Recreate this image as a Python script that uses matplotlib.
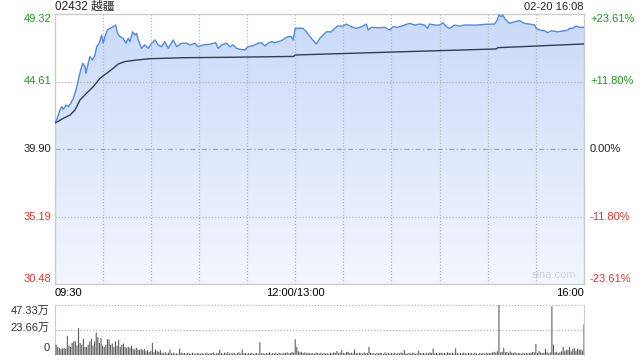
#!/usr/bin/env python3
"""Intraday chart for 02432 越疆 (sina style): price, average line and volume."""

import matplotlib

matplotlib.use("Agg")
import matplotlib.pyplot as plt
import numpy as np
from matplotlib.colors import LinearSegmentedColormap
from matplotlib.patches import PathPatch
from matplotlib.transforms import blended_transform_factory

plt.rcParams["font.family"] = ["Liberation Sans", "Noto Sans CJK SC", "DejaVu Sans"]

TITLE = "02432 越疆"
STAMP = "02-20 16:08"
PREV_CLOSE = 39.90
PRICE_TICKS = [49.32, 44.61, 39.90, 35.19, 30.48]
PCT_TICKS = ["+23.61%", "+11.80%", "0.00%", "-11.80%", "-23.61%"]
VOL_TICKS = [47.33, 23.66, 0]
VOL_LABELS = ["47.33万", "23.66万", "0"]
TIME_LABELS = ["09:30", "12:00/13:00", "16:00"]

# minutes of trading since 09:30 (lunch break removed, 0..330)
price_min = [
    0, 1.7, 3.4, 4.5, 5.5, 7.2, 8.6, 10.1, 11.7, 13.4, 14.8, 16.3, 17.6, 19.0,
    19.6, 21.0, 22.1, 23.8, 25.2, 26.3, 27.9, 29.4, 30.4, 31.4, 32.9, 34.6,
    36.6, 38.1, 39.3, 40.8, 42.8, 44.5, 45.9, 47.0, 48.7, 50.1, 51.2, 52.2,
    54.3, 56.3, 58.4, 60.5, 62.6, 64.6, 66.7, 68.8, 70.9, 74.0, 76.1, 79.2,
    82.3, 84.4, 87.5, 89.5, 92.6, 96.8, 100.4, 102.0, 104.1, 107.2, 109.3,
    111.3, 113.4, 115.5, 118.6, 120.7, 123.8, 126.9, 129.0, 131.1, 133.1,
    135.2, 137.3, 139.3, 141.5, 143.5, 145.6, 147.7, 148.7, 150.0, 151.8,
    154.9, 157.0, 160.1, 163.2, 165.3, 167.4, 169.5, 172.6, 174.6, 176.7,
    179.8, 181.9, 185.0, 188.1, 191.3, 194.4, 195.4, 197.5, 201.6, 205.8,
    208.9, 210.9, 214.0, 218.2, 221.3, 224.5, 227.6, 230.7, 232.4, 233.8,
    236.9, 240.0, 242.1, 244.2, 246.2, 249.4, 252.5, 255.6, 259.7, 263.9,
    268.0, 274.3, 275.9, 276.9, 278.4, 279.4, 280.9, 283.6, 286.7, 289.8,
    292.9, 296.0, 299.2, 300.2, 302.3, 305.4, 307.4, 309.6, 313.7, 317.8,
    319.9, 320.9, 323.0, 325.1, 327.2, 330.0,
]
price = [
    41.69, 42.04, 42.62, 42.85, 42.67, 42.97, 42.85, 43.09, 43.44, 44.02,
    44.71, 45.41, 45.88, 45.64, 45.18, 45.88, 46.34, 46.11, 46.46, 47.04,
    47.28, 47.85, 47.28, 47.74, 48.20, 48.32, 48.43, 48.55, 47.97, 47.74,
    47.62, 47.28, 47.62, 47.39, 48.08, 47.85, 47.97, 47.51, 46.93, 47.16,
    46.93, 47.28, 47.51, 47.16, 47.04, 47.39, 46.93, 47.51, 47.04, 47.28,
    47.28, 47.16, 47.28, 47.04, 47.16, 47.21, 47.32, 46.93, 47.16, 47.28,
    47.04, 47.16, 46.93, 46.86, 46.81, 47.04, 47.11, 47.28, 47.32, 47.09,
    47.28, 47.39, 47.32, 47.39, 47.46, 47.62, 47.74, 47.74, 47.51, 48.32,
    48.32, 48.32, 48.08, 47.62, 47.23, 47.62, 47.85, 48.08, 48.08, 48.32,
    48.48, 48.48, 48.62, 48.43, 48.32, 48.43, 48.62, 48.20, 48.39, 48.36,
    48.39, 48.20, 48.43, 48.39, 48.55, 48.67, 48.55, 48.62, 48.55, 48.32,
    48.62, 48.55, 48.55, 48.71, 48.43, 48.32, 48.55, 48.48, 48.55, 48.55,
    48.55, 48.60, 48.62, 48.90, 49.25, 49.13, 49.25, 48.95, 48.67, 48.78,
    48.85, 48.67, 48.62, 48.55, 48.32, 48.20, 48.15, 48.02, 48.15, 48.08,
    48.15, 48.20, 48.32, 48.32, 48.48, 48.39, 48.39,
]

avg_min = [0, 5.5, 9.7, 12.8, 15.9, 20.0, 24.2, 28.3, 32.5, 36.6, 39.7, 43.9,
           51.2, 59.5, 80.2, 109.3, 149.0, 150.0, 218.2, 275.3, 276.3, 330.0]
avg_price = [41.69, 42.04, 42.27, 42.62, 43.32, 43.79, 44.25, 44.83, 45.18,
             45.53, 45.83, 46.00, 46.11, 46.20, 46.27, 46.30, 46.36, 46.46,
             46.69, 46.88, 46.97, 47.23]

# volume per minute, in 万 shares (index = minute 0..330)
volume = [
    10.5, 9.8, 7.7, 6.8, 5.8, 6.1, 6.8, 5.8, 18.2, 8.9,
    7.7, 11.4, 12.9, 12.9, 8.9, 25.5, 11.4, 9.8, 15.4, 7.7,
    7.7, 9.8, 12.9, 15.4, 8.9, 12.9, 21.2, 16.9, 11.4, 16.0,
    8.9, 7.7, 9.8, 15.1, 14.5, 9.8, 10.8, 7.7, 12.9, 8.9,
    14.5, 7.7, 9.8, 10.8, 7.7, 6.8, 7.7, 6.8, 8.9, 5.8,
    5.2, 6.8, 5.2, 4.6, 5.8, 4.6, 5.8, 3.7, 4.6, 2.8,
    3.7, 11.4, 2.8, 5.2, 3.7, 2.8, 4.6, 2.2, 1.5, 2.8,
    1.5, 2.2, 5.2, 1.5, 2.2, 1.2, 1.5, 1.2, 6.1, 2.2,
    1.5, 1.8, 1.2, 2.0, 1.5, 1.0, 2.2, 1.5, 1.2, 1.8,
    1.5, 1.2, 2.0, 1.0, 1.5, 2.2, 1.2, 1.8, 1.5, 2.5,
    1.2, 1.5, 2.0, 5.2, 1.8, 1.2, 2.2, 1.5, 2.8, 1.2,
    1.8, 1.5, 2.2, 1.0, 1.8, 2.5, 1.2, 5.2, 1.5, 2.0,
    1.2, 1.8, 1.5, 2.2, 1.0, 1.5, 2.0, 1.2, 12.0, 1.5,
    1.8, 1.2, 2.0, 1.5, 2.5, 1.2, 1.8, 1.5, 2.2, 1.0,
    2.0, 1.5, 1.2, 2.2, 1.8, 2.5, 1.5, 2.0, 3.0, 2.2,
    15.0, 7.7, 3.5, 2.5, 3.0, 1.8, 2.5, 1.5, 2.2, 1.8,
    1.5, 2.0, 1.2, 2.5, 1.8, 1.5, 2.2, 1.2, 2.0, 1.5,
    1.8, 1.2, 2.2, 1.5, 2.5, 2.0, 3.7, 1.5, 2.2, 4.6,
    2.0, 1.5, 2.8, 3.0, 1.8, 2.2, 1.5, 5.2, 2.0, 1.5,
    2.2, 1.8, 1.2, 2.5, 1.5, 2.0, 7.7, 2.2, 1.5, 1.8,
    1.2, 2.0, 1.5, 2.2, 1.8, 1.0, 2.5, 1.5, 2.0, 1.2,
    1.8, 1.5, 2.2, 1.2, 2.0, 1.5, 2.5, 1.8, 4.6, 1.5,
    1.2, 2.0, 1.5, 1.8, 2.2, 1.2, 1.5, 4.0, 1.8, 1.5,
    2.0, 1.2, 2.2, 1.5, 2.5, 1.8, 6.2, 1.5, 2.0, 1.2,
    1.8, 2.2, 1.5, 2.0, 1.2, 2.5, 1.8, 1.5, 2.2, 1.5,
    6.2, 1.8, 1.2, 2.0, 1.5, 2.2, 1.8, 1.2, 2.0, 1.5,
    1.8, 1.2, 2.2, 1.5, 1.0, 2.0, 1.5, 1.8, 1.2, 2.2,
    1.5, 2.0, 1.8, 2.5, 3.0, 2.2, 3.5, 47.33, 2.5, 3.0,
    6.8, 2.5, 3.0, 2.0, 3.5, 2.2, 1.8, 2.5, 1.5, 2.0,
    1.8, 1.2, 2.2, 1.5, 2.0, 1.5, 1.8, 2.2, 3.0, 2.5,
    10.5, 2.0, 3.7, 2.5, 1.8, 2.2, 5.8, 3.0, 1.5, 2.5,
    46.0, 9.8, 2.5, 3.0, 1.8, 2.5, 3.5, 7.7, 3.7, 4.5,
    5.0, 7.7, 3.5, 5.5, 6.8, 4.0, 6.0, 5.0, 5.2, 4.0,
    29.0,
]

GREEN = "#1a9c1a"
RED = "#f0302a"
BORDER = "#cccccc"
GRID = "#b8b8b8"
DOTS = (0, (1, 1.5))

fig = plt.figure(figsize=(6.4, 3.6), dpi=100)
ax = fig.add_axes([54.5 / 640, 1 - 284 / 360, 529.5 / 640, 270 / 360])
vax = fig.add_axes([54.5 / 640, 1 - 355 / 360, 529.5 / 640, 50 / 360])

ax.set_xlim(0, 330)
ax.set_ylim(PRICE_TICKS[-1], PRICE_TICKS[0])

# gradient area under the price
poly = ax.fill_between(price_min, price, PRICE_TICKS[-1], color="none", lw=0)
clip = PathPatch(poly.get_paths()[0], transform=ax.transData,
                 facecolor="none", edgecolor="none")
ax.add_patch(clip)
cmap = LinearSegmentedColormap.from_list("fill", ["#f3f6fe", "#c9daf8"])
grad = np.linspace(0, 1, 256).reshape(-1, 1)
im = ax.imshow(grad, extent=[0, 330, PRICE_TICKS[-1], PRICE_TICKS[0]],
               origin="lower", aspect="auto", cmap=cmap, zorder=1)
im.set_clip_path(clip)
ax.set_xlim(0, 330)
ax.set_ylim(PRICE_TICKS[-1], PRICE_TICKS[0])

for t in range(30, 330, 30):
    ax.plot([t, t], [PRICE_TICKS[-1], PRICE_TICKS[0]], color=GRID, lw=0.9,
            ls=DOTS, zorder=2)
for p in (PRICE_TICKS[1], PRICE_TICKS[3]):
    ax.plot([0, 330], [p, p], color=GRID, lw=0.9, ls=DOTS, zorder=2)
ax.plot([0, 330], [PREV_CLOSE, PREV_CLOSE], color="#a8a8a8", lw=0.9,
        ls=(0, (4, 2, 1, 2)), zorder=2)

ax.plot(price_min, price, color="#4f8ae8", lw=1.0, zorder=4)
ax.plot(avg_min, avg_price, color="#2f3d55", lw=1.0, zorder=4)

ax.set_xticks([])
ax.set_yticks([])
for s in ax.spines.values():
    s.set_color(BORDER)
    s.set_linewidth(1.0)

# price / percent labels
tr = blended_transform_factory(fig.transFigure, ax.transData)
label_colors = [GREEN, GREEN, "#222222", RED, RED]
for i, (p, pct, c) in enumerate(zip(PRICE_TICKS, PCT_TICKS, label_colors)):
    va = "top" if i == 0 else ("bottom" if i == len(PRICE_TICKS) - 1 else "center")
    ax.text(51 / 640, p, f"{p:.2f}", transform=tr, ha="right", va=va,
            color=c, fontsize=8, clip_on=False)
    ax.text(590 / 640, p, pct, transform=tr, ha="left", va=va,
            color=c, fontsize=8, clip_on=False)

fig.text(55 / 640, 1 - 7 / 360, TITLE, ha="left", va="center", fontsize=8.5,
         color="#222222")
fig.text(584 / 640, 1 - 7 / 360, STAMP, ha="right", va="center", fontsize=8,
         color="#222222")
ax.text(532 / 640, 30.48 + 0.25, "sina.com", transform=tr,
        ha="left", va="bottom", fontsize=8, color="#d0d0d0")

# time labels
ty = 1 - 293 / 360
fig.text(55 / 640, ty, TIME_LABELS[0], ha="left", va="center", fontsize=8)
fig.text(295 / 640, ty, TIME_LABELS[1], ha="center", va="center", fontsize=8)
fig.text(584 / 640, ty, TIME_LABELS[2], ha="right", va="center", fontsize=8)

# volume panel
vax.set_xlim(0, 330)
vax.set_ylim(0, VOL_TICKS[0])
bars = vax.bar(np.arange(len(volume)), volume, width=0.65, color="#555555",
               lw=0, zorder=3)
for b in bars:
    b.set_snap(False)
for v in VOL_TICKS[:2]:
    vax.plot([0, 330], [v, v], color=GRID, lw=0.9, ls=DOTS, zorder=2,
             clip_on=False)
vax.set_xticks([])
vax.set_yticks([])
for side in ("top", "bottom"):
    vax.spines[side].set_visible(False)
for side in ("left", "right"):
    vax.spines[side].set_color(BORDER)
for lab, yy in zip(VOL_LABELS, (311, 328, 348)):
    fig.text(50 / 640, 1 - yy / 360, lab, ha="right", va="center",
             fontsize=8, color="#333333")

fig.savefig("out.png", dpi=100)
